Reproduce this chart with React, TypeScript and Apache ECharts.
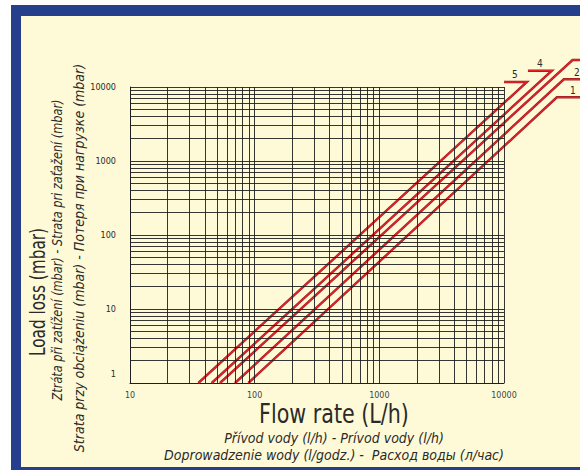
import { useEffect, useRef } from 'react';
import * as echarts from 'echarts';

// ---- data ----
const X_DECADES = [10, 100, 1000];
const X_MAJOR = [100, 1000, 10000];
const Y_DECADES = [1, 10, 100, 1000];
const Y_MAJOR = [10, 100, 1000, 10000];
const MINOR_STEPS = [2, 3, 4, 5, 6, 7, 8, 9];

const CURVE_LABELS = ['1', '2', '3', '4', '5'];
const FLOW_AT_1_MBAR = [88.9, 69.5, 52.7, 45.2, 35.3];
const DIAG_END_FLOW = [26550, 30200, 35480, 24200, 15270];
const DIAG_END_LOSS = [7260, 12700, 23170, 16600, 11690];
const LABEL_FLOW = [35700, 38460, 48000, 19400, 12220];
const LEADER_END_FLOW = [60000, 60000, 60000, 15560, 10000];

const X_TITLE = 'Flow rate (L/h)';
const X_SUB1 = 'Přívod vody (l/h) - Prívod vody (l/h)';
const X_SUB2 = 'Doprowadzenie wody (l/godz.) -  Расход воды (л/час)';
const Y_TITLE = 'Load loss (mbar)';
const Y_SUB1 = 'Ztráta při zatížení (mbar) - Strata pri zaťažení (mbar)';
const Y_SUB2 = 'Strata przy obciążeniu (mbar) - Потеря при нагрузке (mbar)';

const FONT = '"DejaVu Sans Condensed", "Liberation Sans Narrow", sans-serif';
const TEXT = '#2a2a2a';
const RED = '#e1242b';
const RED_EDGE = '#9e1b1f';
const GRIDC = '#1f1f1f';

export default function App() {
  const ref = useRef<HTMLDivElement>(null);
  useEffect(() => {
    if (!ref.current) return;
    const chart = echarts.init(ref.current, undefined, { renderer: 'svg' });

    const gridX = [...X_DECADES.flatMap((d) => MINOR_STEPS.map((m) => m * d)), ...X_MAJOR];
    const gridY = [...Y_DECADES.flatMap((d) => MINOR_STEPS.map((m) => m * d)), ...Y_MAJOR];

    const curveRows = CURVE_LABELS.map((_, i) => [
      FLOW_AT_1_MBAR[i], 1, DIAG_END_FLOW[i], DIAG_END_LOSS[i], LABEL_FLOW[i], LEADER_END_FLOW[i],
    ]);

    const renderCurve = (params: any, api: any) => {
      const p0 = api.coord([api.value(0), api.value(1)]);
      const p1 = api.coord([api.value(2), api.value(3)]);
      const pl = api.coord([api.value(4), api.value(3)]);
      const p2 = api.coord([api.value(5), api.value(3)]);
      const pts = [p0, p1, p2];
      const children: any[] = [
        { type: 'polyline', shape: { points: pts }, style: { stroke: RED_EDGE, lineWidth: 2.4, fill: 'none' } },
        { type: 'polyline', shape: { points: pts }, style: { stroke: RED, lineWidth: 1.3, fill: 'none' } },
      ];
      if (pl[0] < api.getWidth()) {
        children.push({
          type: 'text',
          x: pl[0],
          y: pl[1] - 2,
          style: {
            text: CURVE_LABELS[params.dataIndex],
            fill: TEXT,
            fontSize: 10,
            fontFamily: FONT,
            textAlign: 'center',
            textVerticalAlign: 'bottom',
          },
        });
      }
      return { type: 'group', children };
    };

    const option = {
      animation: false,
      backgroundColor: '#ffffff',
      graphic: [
        { type: 'rect', z: -30, silent: true, shape: { x: 0, y: 0, width: 580, height: 470 }, style: { fill: '#ffffff' } },
        { type: 'rect', z: -20, silent: true, shape: { x: 11, y: 5, width: 600, height: 500 }, style: { fill: '#263f8c' } },
        { type: 'rect', z: -10, silent: true, shape: { x: 21, y: 16, width: 600, height: 451 }, style: { fill: '#fefad7' } },
        {
          type: 'text', x: 334, y: 414, scaleX: 0.85,
          style: { text: X_TITLE, fontFamily: FONT, fontSize: 27, fill: TEXT, textAlign: 'center', textVerticalAlign: 'middle' },
        },
        {
          type: 'text', x: 334, y: 438,
          style: { text: X_SUB1, fontFamily: FONT, fontSize: 14, fontStyle: 'italic', fill: TEXT, textAlign: 'center', textVerticalAlign: 'middle' },
        },
        {
          type: 'text', x: 334, y: 455,
          style: { text: X_SUB2, fontFamily: FONT, fontSize: 14, fontStyle: 'italic', fill: TEXT, textAlign: 'center', textVerticalAlign: 'middle' },
        },
        {
          type: 'text', x: 38, y: 292, rotation: Math.PI / 2, scaleX: 0.81,
          style: { text: Y_TITLE, fontFamily: FONT, fontSize: 21, fill: TEXT, textAlign: 'center', textVerticalAlign: 'middle' },
        },
        {
          type: 'text', x: 57, y: 250, rotation: Math.PI / 2, scaleX: 0.9,
          style: { text: Y_SUB1, fontFamily: FONT, fontSize: 14, fontStyle: 'italic', fill: TEXT, textAlign: 'center', textVerticalAlign: 'middle' },
        },
        {
          type: 'text', x: 79, y: 258, rotation: Math.PI / 2,
          style: { text: Y_SUB2, fontFamily: FONT, fontSize: 14, fontStyle: 'italic', fill: TEXT, textAlign: 'center', textVerticalAlign: 'middle' },
        },
      ],
      grid: { left: 130, right: 76, top: 87, bottom: 87 },
      xAxis: {
        type: 'log',
        logBase: 10,
        min: 10,
        max: 10000,
        axisLine: { show: true, onZero: false, lineStyle: { color: GRIDC, width: 1 } },
        axisTick: { show: false },
        splitLine: { show: false },
        minorTick: { show: false },
        minorSplitLine: { show: false },
        axisLabel: {
          margin: 8,
          fontSize: 8,
          fontFamily: '"DejaVu Sans", sans-serif',
          color: '#444',
          formatter: (v: number) => String(v),
        },
      },
      yAxis: {
        type: 'log',
        logBase: 10,
        min: 1,
        max: 10000,
        axisLine: { show: true, onZero: false, lineStyle: { color: GRIDC, width: 1 } },
        axisTick: { show: false },
        splitLine: { show: false },
        minorTick: { show: false },
        minorSplitLine: { show: false },
        axisLabel: {
          margin: 14,
          fontSize: 9,
          fontFamily: FONT,
          color: TEXT,
          formatter: (v: number) => (v === 1 ? '{lift|1}' : String(v)),
          rich: { lift: { fontSize: 9, fontFamily: FONT, color: TEXT, padding: [0, 0, 18, 0] } },
        },
      },
      series: [
        {
          type: 'line',
          name: 'grid',
          data: [],
          silent: true,
          z: 2,
          markLine: {
            silent: true,
            symbol: ['none', 'none'],
            label: { show: false },
            emphasis: { disabled: true },
            lineStyle: { color: GRIDC, width: 1, type: 'solid', opacity: 0.9 },
            data: [...gridX.map((v) => ({ xAxis: v })), ...gridY.map((v) => ({ yAxis: v }))],
          },
        },
        {
          type: 'custom',
          name: 'curves',
          coordinateSystem: 'cartesian2d',
          clip: false,
          silent: true,
          z: 3,
          encode: { x: [0, 2, 4, 5], y: [1, 3] },
          data: curveRows,
          renderItem: renderCurve,
        },
      ],
    };

    chart.setOption(option as any);
    return () => chart.dispose();
  }, []);

  return <div ref={ref} style={{ position: 'fixed', left: 0, top: 0, width: 580, height: 470 }} />;
}
